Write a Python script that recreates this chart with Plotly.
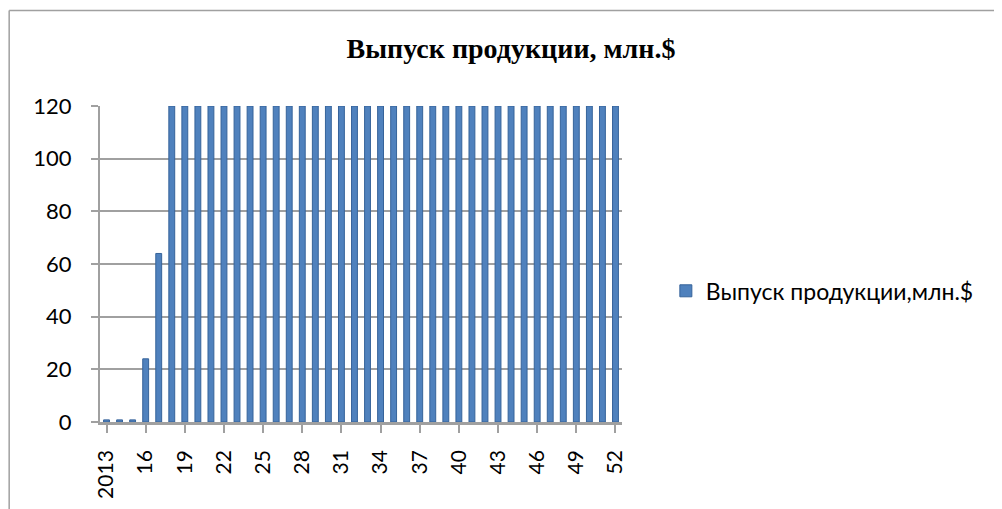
import plotly.graph_objects as go

# data
years = ['2013'] + [str(y) for y in range(14, 53)]
output = [0.8, 0.8, 0.8, 24, 64] + [120] * 35
tick_labels = years[::3]

fig = go.Figure()
fig.add_trace(go.Bar(x=years, y=output, name='Выпуск продукции,млн.$',
                     marker=dict(color='#4F81BD', line=dict(color='#36639A', width=1))))

fig.update_xaxes(type='category', tickmode='array', tickvals=tick_labels, ticktext=tick_labels,
                 tickangle=-90, showgrid=False, showline=True, linecolor='#A0A0A0', linewidth=2.5,
                 ticks='outside', ticklen=8, tickcolor='#A0A0A0', tickwidth=1.5,
                 ticklabelstandoff=9,
                 tickfont=dict(family='Lato', size=21, color='black'))
fig.update_yaxes(range=[0, 120], dtick=20, showgrid=True, gridcolor='#A0A0A0', gridwidth=2,
                 showline=True, linecolor='#A0A0A0', linewidth=2, ticks='outside', ticklen=7,
                 tickcolor='#A0A0A0', tickwidth=1.5, ticklabelstandoff=15,
                 tickfont=dict(family='Lato', size=22, color='black'))

fig.update_layout(
    width=1002, height=509,
    margin=dict(l=92, r=388, t=98, b=95),
    plot_bgcolor='white', paper_bgcolor='white',
    bargap=0.55,
    title=dict(text='<b>Выпуск продукции, млн.$</b>', x=0.502, xanchor='center',
               y=0.921, yanchor='middle',
               font=dict(family='Liberation Serif', size=28, color='black')),
    showlegend=True,
    legend=dict(x=1.084, y=0.415, xanchor='left', yanchor='middle',
                font=dict(family='Lato', size=23, color='black')),
    shapes=[
        dict(type='line', xref='paper', yref='paper', x0=-0.174, x1=-0.174, y0=1.302, y1=-0.3,
             line=dict(color='#A0A0A0', width=1.5)),
        dict(type='line', xref='paper', yref='paper', x0=-0.174, x1=1.75, y0=1.302, y1=1.302,
             line=dict(color='#A0A0A0', width=1.5)),
    ],
)

fig.write_html('out.html')
